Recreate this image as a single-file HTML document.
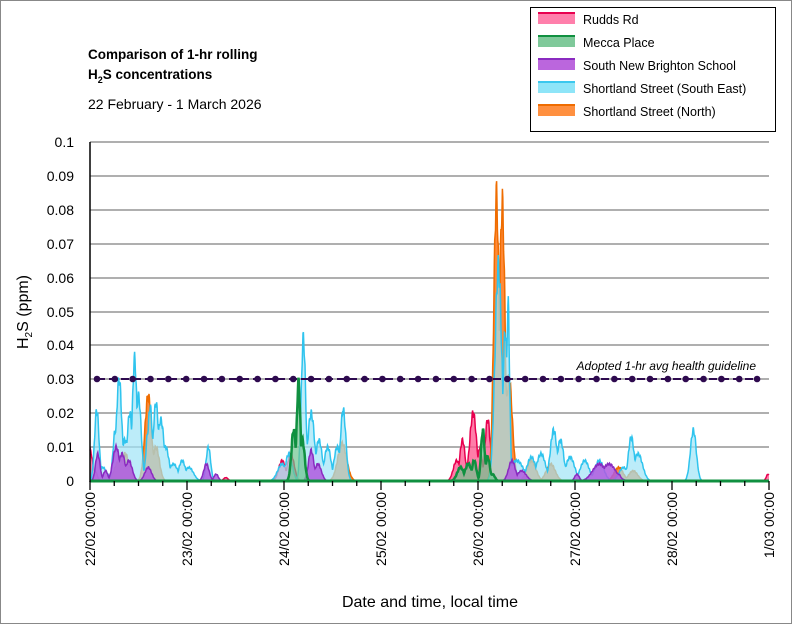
<!DOCTYPE html>
<html><head><meta charset="utf-8"><style>
body{margin:0;background:#fff}
svg{display:block;font-family:"Liberation Sans",sans-serif}
</style></head><body>
<svg id="s" width="792" height="624" viewBox="0 0 792 624" xmlns="http://www.w3.org/2000/svg">
<rect x="0.5" y="0.5" width="791" height="623" fill="#fff" stroke="#888"/>
<g stroke="#7f7f7f" stroke-width="1.3">
<line x1="90" x2="769" y1="142" y2="142"/><line x1="90" x2="769" y1="176" y2="176"/><line x1="90" x2="769" y1="210" y2="210"/><line x1="90" x2="769" y1="244" y2="244"/><line x1="90" x2="769" y1="278" y2="278"/><line x1="90" x2="769" y1="312" y2="312"/><line x1="90" x2="769" y1="345" y2="345"/><line x1="90" x2="769" y1="379" y2="379"/><line x1="90" x2="769" y1="413" y2="413"/><line x1="90" x2="769" y1="447" y2="447"/>
</g>
<g id="series"></g>
<line x1="90" y1="142" x2="90" y2="482" stroke="#000" stroke-width="1.5"/>
<g id="ticks" stroke="#000" stroke-width="1.3"></g>
<g font-size="14" fill="#000" text-anchor="end">
<text x="74" y="147">0.1</text><text x="74" y="181">0.09</text><text x="74" y="215">0.08</text><text x="74" y="249">0.07</text><text x="74" y="283">0.06</text><text x="74" y="317">0.05</text><text x="74" y="350">0.04</text><text x="74" y="384">0.03</text><text x="74" y="418">0.02</text><text x="74" y="452">0.01</text><text x="74" y="486">0</text>
</g>
<g id="xl" font-size="14" fill="#000" text-anchor="end"></g>
<g id="guide"></g>
<text x="756" y="370" font-size="12" font-style="italic" text-anchor="end">Adopted 1-hr avg health guideline</text>
<text x="88" y="59" font-size="13.5" font-weight="bold">Comparison of 1-hr rolling</text>
<text x="88" y="79" font-size="13.5" font-weight="bold">H<tspan font-size="9" dy="4">2</tspan><tspan dy="-4">S concentrations</tspan></text>
<text x="88" y="109" font-size="14">22 February - 1 March 2026</text>
<text transform="translate(28,312) rotate(-90)" font-size="16" text-anchor="middle">H<tspan font-size="10" dy="4">2</tspan><tspan dy="-4">S (ppm)</tspan></text>
<text x="430" y="607" font-size="16" text-anchor="middle">Date and time, local time</text>
<rect x="530.5" y="7.5" width="245" height="124" fill="#fff" stroke="#000"/>
<g font-size="12.5">
<rect x="538" y="12" width="37" height="12" fill="#ff7fab"/><rect x="538" y="12" width="37" height="2" fill="#e8004f"/><text x="583" y="24">Rudds Rd</text>
<rect x="538" y="35" width="37" height="12" fill="#7fc99a"/><rect x="538" y="35" width="37" height="2" fill="#109040"/><text x="583" y="47">Mecca Place</text>
<rect x="538" y="58" width="37" height="12" fill="#bb66dd"/><rect x="538" y="58" width="37" height="2" fill="#8a2bc0"/><text x="583" y="70">South New Brighton School</text>
<rect x="538" y="81" width="37" height="12" fill="#8ee5f8"/><rect x="538" y="81" width="37" height="2" fill="#3bc8ee"/><text x="583" y="93">Shortland Street (South East)</text>
<rect x="538" y="104" width="37" height="12" fill="#ff9040"/><rect x="538" y="104" width="37" height="2" fill="#ef6c00"/><text x="583" y="116">Shortland Street (North)</text>
</g>
</svg>
<script>
const NS="http://www.w3.org/2000/svg";
const X=d=>90+d*97, Y=v=>481-v*3390;
function el(t,a,p){const e=document.createElementNS(NS,t);for(const k in a)e.setAttribute(k,a[k]);p.appendChild(e);return e;}
const W=2.3;
const ser=[
 {fill:"#ff5c93",stroke:"#e8004f",op:0.8,pk:[[0,.009,.012],[.05,.003,.01],[.68,.002,.01],[1.4,.001,.01],[1.98,.006,.015],[2.07,.008,.015],[3.78,.006,.015],[3.84,.012,.012],[3.95,.02,.015],[4.02,.01,.01],[4.1,.018,.012],[4.2,.005,.01],[6.99,.002,.008]]},
 {fill:"#ff8a3a",stroke:"#ef6c00",op:1,pk:[[.3,.006,.02],[.36,.008,.02],[.6,.025,.015],[.68,.01,.015],[2.6,.011,.02],[4.19,.084,.012],[4.25,.082,.012],[4.32,.03,.015],[4.55,.006,.02],[4.75,.005,.02],[5.45,.004,.02],[5.6,.003,.02]]},
 {fill:"#9fe4f7",stroke:"#2fc4ee",op:0.7,pk:[[.07,.021,.01],[.13,.004,.02],[.26,.015,.01],[.3,.03,.012],[.36,.012,.02],[.41,.02,.012],[.46,.036,.01],[.5,.025,.012],[.6,.015,.01],[.62,.022,.01],[.68,.023,.012],[.73,.018,.015],[.78,.01,.015],[.86,.005,.02],[.95,.006,.015],[1.02,.004,.02],[1.22,.01,.01],[1.98,.005,.02],[2.05,.008,.015],[2.2,.042,.01],[2.28,.02,.015],[2.36,.012,.015],[2.45,.01,.015],[2.55,.01,.015],[2.61,.021,.012],[4.21,.063,.015],[4.28,.044,.01],[4.31,.052,.007],[4.4,.006,.03],[4.55,.007,.02],[4.65,.008,.02],[4.78,.015,.015],[4.85,.012,.015],[4.95,.007,.02],[5.1,.006,.02],[5.25,.006,.02],[5.5,.004,.02],[5.58,.013,.013],[5.65,.008,.02],[6.22,.015,.013]]},
 {fill:"#b05ae0",stroke:"#8a2bc0",op:0.85,pk:[[.08,.008,.01],[.16,.003,.01],[.27,.01,.015],[.33,.008,.015],[.4,.006,.015],[.6,.004,.015],[1.2,.005,.012],[1.3,.002,.01],[2.28,.009,.012],[2.35,.005,.015],[4.35,.006,.015],[4.45,.003,.02],[5.02,.002,.01],[5.25,.005,.03],[5.35,.005,.03],[5.45,.002,.01]]},
 {fill:"#6fc48f",stroke:"#109040",op:0.7,line:true,pk:[[2.1,.015,.01],[2.15,.029,.008],[2.19,.012,.01],[3.82,.004,.015],[3.9,.005,.015],[3.96,.006,.01],[4.05,.015,.008],[4.1,.007,.01],[4.15,.002,.01]]}
];
const g=document.getElementById("series");
ser.forEach((s,i)=>{
 let pts=[];
 for(let d=0;d<=7.0001;d+=0.004){
  let v=0;
  s.pk.forEach(p=>{const z=(d-p[0])/(p[2]*W);v=Math.max(v,p[1]*Math.exp(-z*z/2));});
  if(v>0.0006) v*=1+0.06*Math.sin(d*300+i);
  pts.push([X(d).toFixed(1),Y(v).toFixed(1)]);
 }
 const line=pts.map(p=>p.join(",")).join(" ");
 el("polygon",{points:X(0)+","+481+" "+line+" "+X(7)+",481",fill:s.fill,"fill-opacity":s.op},g);
 el("polyline",{points:line,fill:"none",stroke:s.stroke,"stroke-width":s.line?2.5:1.5},g);
});
el("line",{x1:90,x2:769,y1:481,y2:481,stroke:"#109040","stroke-width":3},g);
const t=document.getElementById("ticks");
for(let q=0;q<=28;q++){const x=X(q/4);el("line",{x1:x,x2:x,y1:481,y2:q%4==0?490:486},t);}
const labs=["22/02 00:00","23/02 00:00","24/02 00:00","25/02 00:00","26/02 00:00","27/02 00:00","28/02 00:00","1/03 00:00"];
const xl=document.getElementById("xl");
labs.forEach((l,i)=>{const e=el("text",{transform:`translate(${X(i)+5},492) rotate(-90)`},xl);e.textContent=l;});
const gd=document.getElementById("guide");
el("line",{x1:97,x2:757,y1:379,y2:379,stroke:"#2e0a4f","stroke-width":2,"stroke-dasharray":"8,4"},gd);
for(let k=0;k<=37;k++)el("circle",{cx:97+k*17.84,cy:379,r:3.3,fill:"#2e0a4f"},gd);
</script>
</body></html>
